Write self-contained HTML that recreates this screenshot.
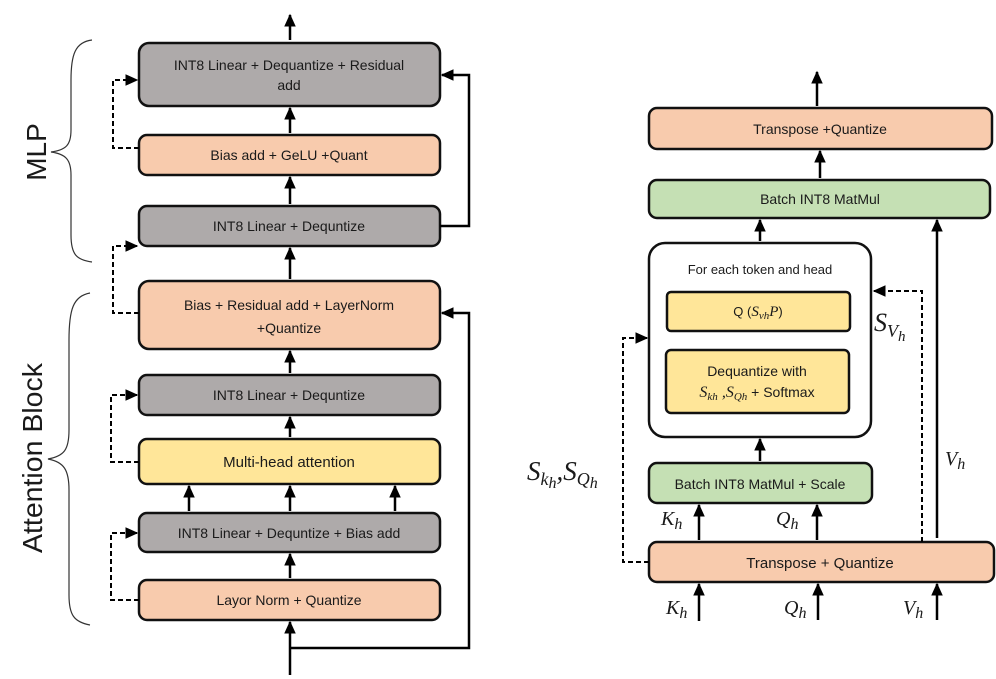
<!DOCTYPE html>
<html><head><meta charset="utf-8"><style>
html,body{margin:0;padding:0;background:#fff;}
svg{display:block;}
text{font-family:"Liberation Sans",sans-serif;fill:#1a1a1a;}
.m{font-family:"Liberation Serif",serif;font-style:italic;}
</style></head><body>
<svg width="996" height="679" viewBox="0 0 996 679" xmlns="http://www.w3.org/2000/svg">
<defs>
<marker id="a" viewBox="0 0 10 10" refX="9" refY="5" markerUnits="userSpaceOnUse" markerWidth="13" markerHeight="13" orient="auto-start-reverse"><path d="M0,0.5 L10,5 L0,9.5 z" fill="#000"/></marker>
</defs>
<g stroke="#111" stroke-width="2.5">
<rect x="139" y="43" width="301" height="63" rx="10" fill="#aeaaaa"/>
<rect x="139" y="135" width="301" height="40" rx="8" fill="#f8cbad"/>
<rect x="139" y="206" width="301" height="40" rx="8" fill="#aeaaaa"/>
<rect x="139" y="281" width="301" height="68" rx="10" fill="#f8cbad"/>
<rect x="139" y="375" width="301" height="40" rx="8" fill="#aeaaaa"/>
<rect x="139" y="439" width="301" height="45" rx="8" fill="#ffe699"/>
<rect x="139" y="513" width="301" height="39" rx="8" fill="#aeaaaa"/>
<rect x="139" y="580" width="301" height="40" rx="8" fill="#f8cbad"/>

<rect x="649" y="108" width="343" height="41" rx="8" fill="#f8cbad"/>
<rect x="649" y="180" width="341" height="38" rx="8" fill="#c5e0b4"/>
<rect x="649" y="243" width="222" height="194" rx="16" fill="#fff"/>
<rect x="667" y="292" width="183" height="39" rx="4" fill="#ffe699"/>
<rect x="666" y="350" width="183" height="63" rx="5" fill="#ffe699"/>
<rect x="649" y="463" width="223" height="40" rx="8" fill="#c5e0b4"/>
<rect x="649" y="542" width="345" height="40" rx="8" fill="#f8cbad"/>
</g>
<g stroke="#000" stroke-width="2.5" fill="none">
<line x1="290" y1="40" x2="290" y2="15" marker-end="url(#a)"/>
<line x1="290" y1="133" x2="290" y2="108" marker-end="url(#a)"/>
<line x1="290" y1="204" x2="290" y2="177" marker-end="url(#a)"/>
<line x1="290" y1="279" x2="290" y2="248" marker-end="url(#a)"/>
<line x1="290" y1="373" x2="290" y2="351" marker-end="url(#a)"/>
<line x1="290" y1="437" x2="290" y2="417" marker-end="url(#a)"/>
<line x1="189" y1="511" x2="189" y2="486" marker-end="url(#a)"/>
<line x1="290" y1="511" x2="290" y2="486" marker-end="url(#a)"/>
<line x1="395" y1="511" x2="395" y2="486" marker-end="url(#a)"/>
<line x1="290" y1="578" x2="290" y2="554" marker-end="url(#a)"/>
<line x1="290" y1="675" x2="290" y2="622" marker-end="url(#a)"/>
<polyline points="440,226 469,226 469,75 442,75" marker-end="url(#a)"/>
<polyline points="290,648 469,648 469,313 442,313" marker-end="url(#a)"/>

<line x1="817" y1="106" x2="817" y2="72" marker-end="url(#a)"/>
<line x1="820" y1="178" x2="820" y2="151" marker-end="url(#a)"/>
<line x1="760" y1="241" x2="760" y2="220" marker-end="url(#a)"/>
<line x1="760" y1="461" x2="760" y2="439" marker-end="url(#a)"/>
<line x1="699" y1="540" x2="699" y2="505" marker-end="url(#a)"/>
<line x1="817" y1="540" x2="817" y2="505" marker-end="url(#a)"/>
<line x1="937" y1="538" x2="937" y2="220" marker-end="url(#a)"/>
<line x1="699" y1="621" x2="699" y2="584" marker-end="url(#a)"/>
<line x1="818" y1="620" x2="818" y2="584" marker-end="url(#a)"/>
<line x1="937" y1="620" x2="937" y2="584" marker-end="url(#a)"/>
</g>
<g stroke="#000" stroke-width="2" fill="none" stroke-dasharray="5,3">
<polyline points="139,148 113,148 113,80 137,80" marker-end="url(#a)"/>
<polyline points="139,313 113,313 113,246 137,246" marker-end="url(#a)"/>
<polyline points="139,462 111,462 111,395 137,395" marker-end="url(#a)"/>
<polyline points="139,600 111,600 111,533 137,533" marker-end="url(#a)"/>
<polyline points="922,542 922,291 874,291" marker-end="url(#a)"/>
<polyline points="649,562 623,562 623,338 647,338" marker-end="url(#a)"/>
</g>
<g stroke="#333" stroke-width="1.2" fill="none">
<path d="M92,40 C75,42 71,55 71,80 L71,130 C71,145 66,150 51,152 C66,154 71,160 71,175 L71,235 C71,255 77,260 92,262"/>
<path d="M90,293 C73,296 69,310 69,340 L69,430 C69,450 64,456 48,459 C64,462 69,470 69,490 L69,595 C69,615 74,622 90,625"/>
</g>
<text transform="translate(46,152) rotate(-90)" font-size="28" text-anchor="middle">MLP</text>
<text transform="translate(42,458) rotate(-90)" font-size="28" text-anchor="middle" textLength="190" lengthAdjust="spacingAndGlyphs">Attention Block</text>
<g font-size="14" text-anchor="middle">
<text x="289" y="70">INT8 Linear + Dequantize + Residual</text>
<text x="289" y="90">add</text>
<text x="289" y="160">Bias add + GeLU +Quant</text>
<text x="289" y="231">INT8 Linear + Dequntize</text>
<text x="289" y="310">Bias + Residual add + LayerNorm</text>
<text x="289" y="333">+Quantize</text>
<text x="289" y="400">INT8 Linear + Dequntize</text>
<text x="289" y="467" font-size="15">Multi-head attention</text>
<text x="289" y="538">INT8 Linear + Dequntize + Bias  add</text>
<text x="289" y="605">Layor Norm + Quantize</text>
<text x="820" y="134">Transpose +Quantize</text>
<text x="820" y="204">Batch INT8 MatMul</text>
<text x="760" y="274" font-size="13">For each token and head</text>
<text x="758" y="316" font-size="13">Q (<tspan class="m" font-size="15">S<tspan font-size="11" dy="3">vh</tspan><tspan dy="-3">P</tspan></tspan>)</text>
<text x="757" y="376" font-size="14">Dequantize with</text>
<text x="757" y="397" font-size="14"><tspan class="m" font-size="16">S<tspan font-size="11" dy="3">kh</tspan><tspan dy="-3"> ,S</tspan><tspan font-size="11" dy="3">Qh</tspan></tspan><tspan dy="-3"> + Softmax</tspan></text>
<text x="760" y="489">Batch INT8 MatMul + Scale</text>
<text x="820" y="568" font-size="15">Transpose + Quantize</text>
</g>
<g class="m">
<text class="m" x="874" y="331" font-size="26">S<tspan font-size="18" dy="6">V</tspan><tspan font-size="15" dy="4">h</tspan></text>
<text class="m" x="527" y="480" font-size="27">S<tspan font-size="18" dy="5">k</tspan><tspan font-size="16" dy="3">h</tspan><tspan font-size="27" dy="-8">,S</tspan><tspan font-size="18" dy="5">Q</tspan><tspan font-size="16" dy="3">h</tspan></text>
<text class="m" x="661" y="525" font-size="20">K<tspan font-size="16" dy="4">h</tspan></text>
<text class="m" x="776" y="525" font-size="20">Q<tspan font-size="16" dy="4">h</tspan></text>
<text class="m" x="945" y="465" font-size="20">V<tspan font-size="16" dy="4">h</tspan></text>
<text class="m" x="666" y="614" font-size="20">K<tspan font-size="16" dy="4">h</tspan></text>
<text class="m" x="784" y="614" font-size="20">Q<tspan font-size="16" dy="4">h</tspan></text>
<text class="m" x="903" y="614" font-size="20">V<tspan font-size="16" dy="4">h</tspan></text>
</g>
</svg>
</body></html>
